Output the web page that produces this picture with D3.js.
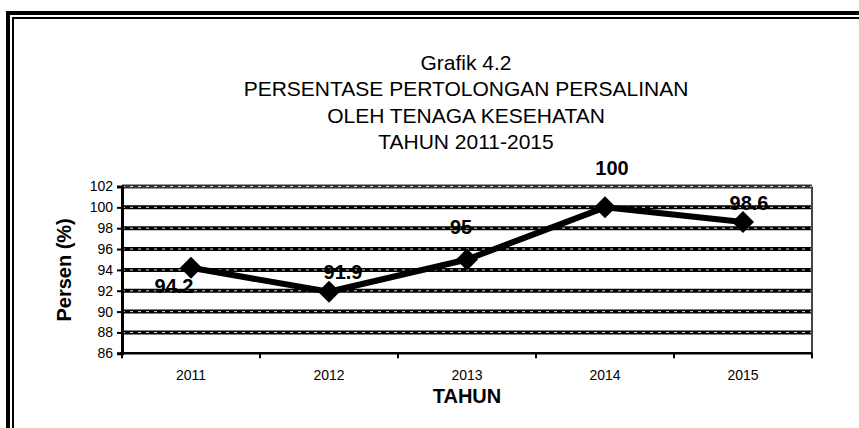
<!DOCTYPE html>
<head>
  <meta charset="utf-8">
  <script src="https://d3js.org/d3.v7.min.js"></script>
  <style>
    body { margin:0; background:white; }
    svg { display:block; background:white; font-family: "Liberation Sans", Arial, sans-serif; }
  </style>
</head>
<body>
<script>
// data
var years = ["2011", "2012", "2013", "2014", "2015"];
var values = [94.2, 91.9, 95, 100, 98.6];
var yTicks = [86, 88, 90, 92, 94, 96, 98, 100, 102];
var titleLines = ["Grafik 4.2", "PERSENTASE PERTOLONGAN PERSALINAN", "OLEH TENAGA KESEHATAN", "TAHUN 2011-2015"];

// labels were placed by hand in the original, so keep their nudges apart
var labelNudge = [[-17, 25], [14, -13], [-6, -25], [7, -32], [6, -12]];

var width = 859, height = 428;
var plot = { left: 122, right: 812, top: 186.5, bottom: 353.3 };

var svg = d3.select("body").append("svg")
  .attr("width", width)
  .attr("height", height);

// double frame, open to the right and bottom
svg.append("path")
  .attr("d", "M8,428 V13 H859")
  .attr("fill", "none").attr("stroke", "black").attr("stroke-width", 4);
svg.append("path")
  .attr("d", "M13,428 V18 H859")
  .attr("fill", "none").attr("stroke", "black").attr("stroke-width", 2);

// title
svg.append("g").selectAll("text")
  .data(titleLines)
  .enter().append("text")
  .attr("x", 466)
  .attr("y", function(d, i){ return 69.5 + i * 26.5; })
  .attr("text-anchor", "middle")
  .attr("font-size", 21)
  .text(function(d){ return d; });

var x = d3.scaleBand()
  .domain(years)
  .range([plot.left, plot.right]);

var y = d3.scaleLinear()
  .domain([86, 102])
  .range([plot.bottom, plot.top]);

// gridlines: heavy black with a white dotted core
var grid = svg.append("g").attr("class", "grid");
grid.selectAll(".gblack")
  .data(yTicks.filter(function(t){ return t > 86; }))
  .enter().append("line")
  .attr("x1", plot.left).attr("x2", plot.right)
  .attr("y1", function(d){ return y(d); })
  .attr("y2", function(d){ return y(d); })
  .attr("stroke", function(d){ return d === 102 ? "#333" : "black"; })
  .attr("stroke-width", 4);
grid.selectAll(".gwhite")
  .data(yTicks.filter(function(t){ return t > 86; }))
  .enter().append("line")
  .attr("x1", plot.left).attr("x2", plot.right)
  .attr("y1", function(d){ return y(d); })
  .attr("y2", function(d){ return y(d); })
  .attr("stroke", "#ddd")
  .attr("stroke-width", 1)
  .attr("stroke-dasharray", "3,5");

// right border of the plot
svg.append("line")
  .attr("x1", plot.right).attr("x2", plot.right)
  .attr("y1", plot.top).attr("y2", plot.bottom + 5)
  .attr("stroke", "#444").attr("stroke-width", 2);

// y axis
var yAxis = svg.append("g")
  .attr("transform", "translate(" + plot.left + ",0)")
  .call(d3.axisLeft(y).tickValues(yTicks).tickSize(5).tickPadding(4));
yAxis.select(".domain").attr("stroke-width", 3);
yAxis.selectAll(".tick line").attr("stroke-width", 2);
yAxis.selectAll("text")
  .attr("font-size", 14)
  .attr("font-family", "Liberation Sans, Arial, sans-serif")
  .attr("fill", "black");

// x axis with ticks between categories
var xAxis = svg.append("g")
  .attr("transform", "translate(0," + plot.bottom + ")");
xAxis.append("line")
  .attr("x1", plot.left - 2).attr("x2", plot.right)
  .attr("stroke", "black").attr("stroke-width", 2.5);
xAxis.selectAll(".xtick")
  .data(years.concat(["end"]))
  .enter().append("line")
  .attr("x1", function(d, i){ return i < years.length ? x(d) : plot.right; })
  .attr("x2", function(d, i){ return i < years.length ? x(d) : plot.right; })
  .attr("y1", 0).attr("y2", 5)
  .attr("stroke", "black").attr("stroke-width", 2);
xAxis.selectAll(".xlabel")
  .data(years)
  .enter().append("text")
  .attr("x", function(d){ return x(d) + x.bandwidth() / 2; })
  .attr("y", 27)
  .attr("text-anchor", "middle")
  .attr("font-size", 14)
  .text(function(d){ return d; });

// axis titles
svg.append("text")
  .attr("x", (plot.left + plot.right) / 2)
  .attr("y", 403)
  .attr("text-anchor", "middle")
  .attr("font-size", 20)
  .attr("font-weight", "bold")
  .text("TAHUN");

svg.append("text")
  .attr("transform", "translate(71," + ((plot.top + plot.bottom) / 2) + ") rotate(-90)")
  .attr("text-anchor", "middle")
  .attr("font-size", 20)
  .attr("font-weight", "bold")
  .text("Persen (%)");

// series
var points = years.map(function(d, i){
  return { year: d, value: values[i], nudge: labelNudge[i] };
});

var line = d3.line()
  .x(function(d){ return x(d.year) + x.bandwidth() / 2; })
  .y(function(d){ return y(d.value); });

svg.append("path")
  .attr("d", line(points))
  .attr("fill", "none")
  .attr("stroke", "black")
  .attr("stroke-width", 6)
  .attr("stroke-linejoin", "round");

var r = 11;
svg.selectAll(".marker")
  .data(points)
  .enter().append("path")
  .attr("class", "marker")
  .attr("transform", function(d){
    return "translate(" + (x(d.year) + x.bandwidth() / 2) + "," + y(d.value) + ")";
  })
  .attr("d", "M0," + (-r) + "L" + r + ",0L0," + r + "L" + (-r) + ",0Z")
  .attr("fill", "black");

svg.selectAll(".vlabel")
  .data(points)
  .enter().append("text")
  .attr("x", function(d){ return x(d.year) + x.bandwidth() / 2 + d.nudge[0]; })
  .attr("y", function(d){ return y(d.value) + d.nudge[1]; })
  .attr("text-anchor", "middle")
  .attr("font-size", 20)
  .attr("font-weight", "bold")
  .text(function(d){ return d.value; });
</script>
</body>
